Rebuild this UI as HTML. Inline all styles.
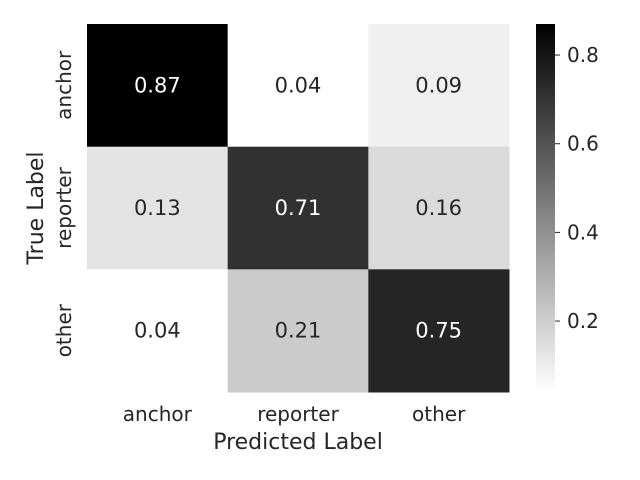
<!DOCTYPE html>
<html><head><meta charset="utf-8"><style>
body{margin:0;background:#fff;}
svg{display:block;font-family:"DejaVu Sans","Liberation Sans",sans-serif;}
</style></head><body>
<svg id="chart" width="640" height="480"></svg>
<script>
const categories=["anchor","reporter","other"];
const row0=[0.87,0.04,0.09];
const row1=[0.13,0.71,0.16];
const row2=[0.04,0.21,0.75];
const values=[row0,row1,row2];
const cbTicks=[0.2,0.4,0.6,0.8];
const vmin=0.04, vmax=0.87;
const X0=87,X1=509,Y0=24,Y1=392;
const cw=(X1-X0)/3, ch=(Y1-Y0)/3;
function color(v){let t=Math.max(0,Math.min(1,(v-vmin)/(vmax-vmin)));const g=Math.round(255*(1-t));return "rgb("+g+","+g+","+g+")";}
const NS="http://www.w3.org/2000/svg";
const svg=document.getElementById("chart");
function el(tag,attrs,parent){const e=document.createElementNS(NS,tag);for(const k in attrs)e.setAttribute(k,attrs[k]);(parent||svg).appendChild(e);return e;}
const xs=i=>X0+i*cw, ys=j=>Y0+j*ch;
values.forEach((row,j)=>row.forEach((v,i)=>{
  const r=el("rect",{x:xs(i),y:ys(j),width:cw+0.5,height:ch+0.5,fill:color(v)});
  
  
  const t=el("text",{x:xs(i)+cw/2,y:ys(j)+ch/2+7,"text-anchor":"middle","font-size":"21",fill:(v-vmin)/(vmax-vmin)>0.5?"#fff":"#262626"});
  t.textContent=v.toFixed(2);
  
  
}));
categories.forEach((c,i)=>{
  const t=el("text",{x:xs(i)+cw/2,y:421,"text-anchor":"middle","font-size":"20",fill:"#262626"});
  t.textContent=c;
  
  
  const cy=ys(i)+ch/2;
  const t2=el("text",{x:0,y:0,"text-anchor":"middle","font-size":"20",fill:"#262626",transform:"translate(71,"+cy+") rotate(-90)"});
  t2.textContent=c;
  
  
});
let xl=el("text",{x:298,y:449,"text-anchor":"middle","font-size":"22",fill:"#262626"});xl.textContent="Predicted Label";

let yl=el("text",{x:0,y:0,"text-anchor":"middle","font-size":"22",fill:"#262626",transform:"translate(43,208) rotate(-90)"});yl.textContent="True Label";

const CX=536,CW=19;
const defs=el("defs",{});
const g=el("linearGradient",{id:"cbg",x1:0,y1:1,x2:0,y2:0},defs);
el("stop",{offset:0,"stop-color":"#fff"},g);
el("stop",{offset:1,"stop-color":"#000"},g);
const cb=el("rect",{x:CX,y:Y0,width:CW,height:Y1-Y0,fill:"url(#cbg)"});

const cys=v=>Y1-(v-vmin)/(vmax-vmin)*(Y1-Y0);
cbTicks.forEach(v=>{
  el("line",{x1:CX+CW,x2:CX+CW+5,y1:cys(v),y2:cys(v),stroke:"#262626","stroke-width":1});
  const t=el("text",{x:CX+CW+12,y:cys(v)+7,"font-size":"20",fill:"#262626"});
  t.textContent=v.toFixed(1);
  
  
});
</script>
</body></html>
